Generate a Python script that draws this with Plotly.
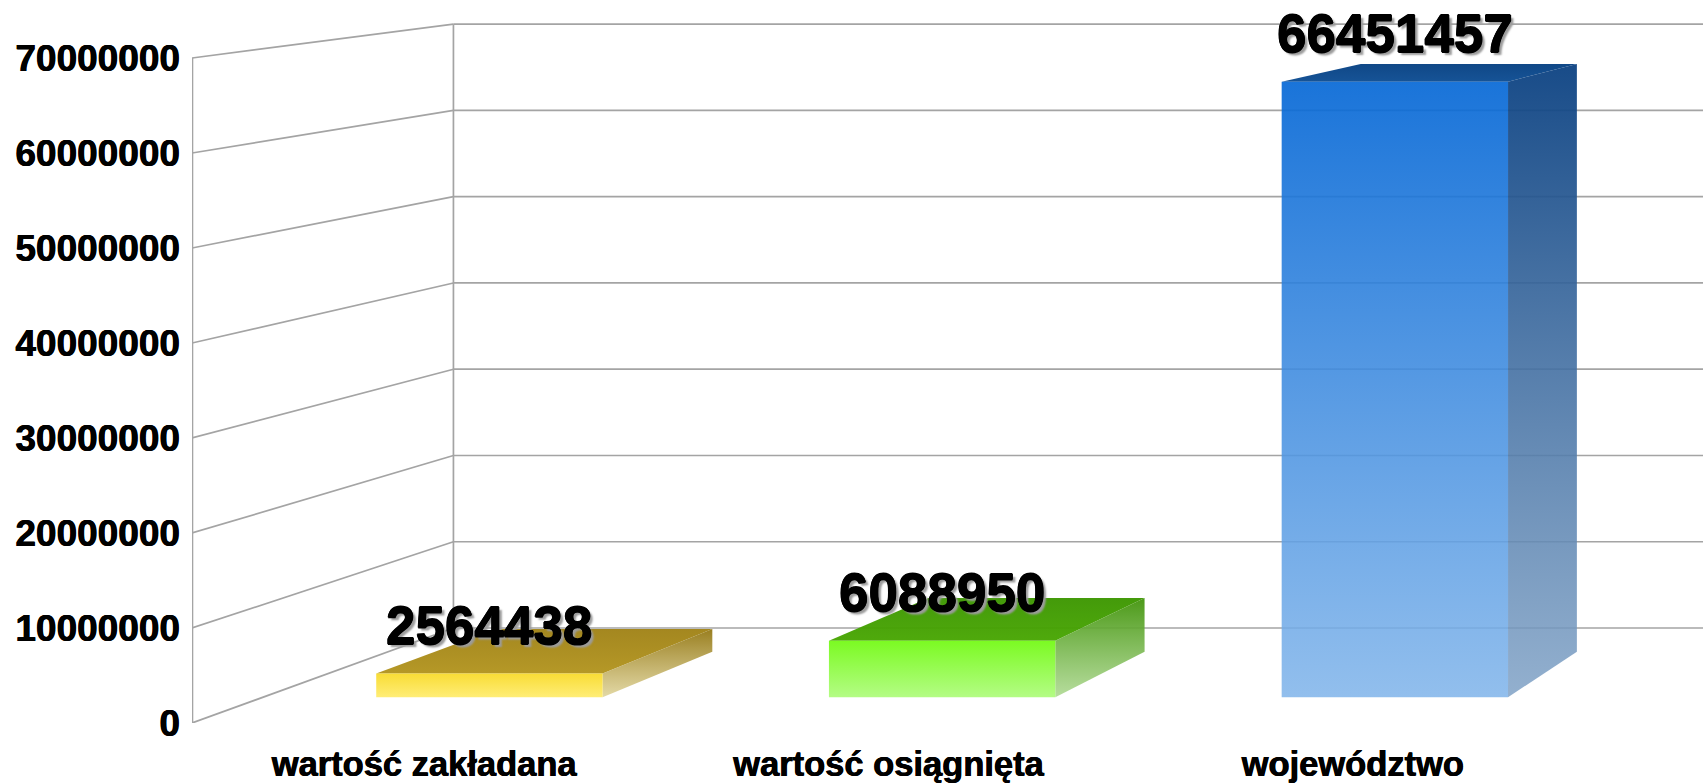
import plotly.graph_objects as go

# ---------------- data ----------------
categories = ["wartość zakładana", "wartość osiągnięta", "województwo"]
values = [2564438, 6088950, 66451457]
tick_values = [0, 10000000, 20000000, 30000000, 40000000, 50000000, 60000000, 70000000]
tick_labels = [str(v) for v in tick_values]

# ---------------- pseudo-3D style constants ----------------
VPX, VPY = 5.62, 108.7e6      # vanishing point (in data units)
S_WALL = 0.092                # depth of back wall
S_FRONT = 0.025               # depth of bar front faces
S_BACK = 0.069                # depth of bar back faces
BAR_W = 0.5
X_MIN, X_FRONT_MAX = -0.5, 2.5
Y_MIN, Y_MAX = 0, 70000000

# figure geometry (pixels)
W, H = 1703, 784
L, B = 192, 61
PX_X = 464.33                      # pixels per category unit
PX_Y = 665.0 / (Y_MAX - Y_MIN)     # pixels per value unit
X_RANGE = [X_MIN, X_MIN + (W - L) / PX_X]
Y_RANGE = [Y_MIN, Y_MIN + (H - B) / PX_Y]

GRID = "#a4a4a4"
FONT = "Liberation Sans"

bar_styles = [
    dict(front=["rgba(255,236,110,0.94)", "rgba(248,218,40,0.94)"],
         top=["rgba(178,148,30,0.96)", "rgba(160,130,22,0.96)"],
         right=["rgba(222,210,150,0.85)", "rgba(148,120,20,0.95)"]),
    dict(front=["rgba(175,252,125,0.94)", "rgba(115,250,20,0.94)"],
         top=["rgba(72,166,2,0.96)", "rgba(60,150,0,0.96)"],
         right=["rgba(170,215,140,0.85)", "rgba(66,148,12,0.95)"]),
    dict(front=["rgba(128,180,234,0.86)", "rgba(6,104,214,0.92)"],
         top=["rgba(12,76,146,0.96)", "rgba(6,64,130,0.96)"],
         right=["rgba(128,162,198,0.85)", "rgba(12,66,130,0.95)"]),
]


def proj(x, y, s):
    return x + s * (VPX - x), y + s * (VPY - y)


fig = go.Figure()

# ---------------- walls / gridlines ----------------
wx, wy = [], []
for v in tick_values:
    bx, by = proj(X_MIN, v, S_WALL)
    rx, ry = proj(X_FRONT_MAX, v, S_WALL)
    wx += [X_MIN, bx, None]          # left wall diagonal
    wy += [v, by, None]
    wx += [bx, rx, None]             # back wall horizontal
    wy += [by, ry, None]
b0 = proj(X_MIN, Y_MIN, S_WALL)
b1 = proj(X_MIN, Y_MAX, S_WALL)
wx += [b0[0], b1[0], None]           # back-left vertical edge
wy += [b0[1], b1[1], None]
fig.add_trace(go.Scatter(x=wx, y=wy, mode="lines",
                         line=dict(color=GRID, width=1.7),
                         hoverinfo="skip", showlegend=False))
# front-left vertical edge (sits on the plot border, so drawn a bit wider)
fig.add_trace(go.Scatter(x=[X_MIN, X_MIN], y=[Y_MIN, Y_MAX], mode="lines",
                         line=dict(color=GRID, width=2.6),
                         hoverinfo="skip", showlegend=False))


def face(pts, colors):
    xs = [p[0] for p in pts] + [pts[0][0]]
    ys = [p[1] for p in pts] + [pts[0][1]]
    fig.add_trace(go.Scatter(
        x=xs, y=ys, mode="lines", fill="toself",
        line=dict(width=0, color="rgba(0,0,0,0)"),
        fillgradient=dict(type="vertical",
                          colorscale=[[0, colors[0]], [1, colors[1]]]),
        hoverinfo="skip", showlegend=False))


LABEL_SHADOW = ("0.6px 0 0 #000, -0.6px 0 0 #000, 0 0.6px 0 #000, 0 -0.6px 0 #000, "
                "3px 3px 2px #9c9c9c")
AXIS_SHADOW = "0.4px 0 0 #000, -0.4px 0 0 #000"

# ---------------- bars ----------------
for i, (cat, v) in enumerate(zip(categories, values)):
    st = bar_styles[i]
    xl, xr = i - BAR_W / 2, i + BAR_W / 2
    flb = proj(xl, 0, S_FRONT)
    frb = proj(xr, 0, S_FRONT)
    frt = proj(xr, v, S_FRONT)
    flt = proj(xl, v, S_FRONT)
    brb = proj(xr, 0, S_BACK)
    brt = proj(xr, v, S_BACK)
    blt = proj(xl, v, S_BACK)
    face([flt, frt, brt, blt], st["top"])
    face([frb, brb, brt, frt], st["right"])
    face([flb, frb, frt, flt], st["front"])
    ax, ay = proj(i, v, S_FRONT)
    fig.add_annotation(x=ax, y=ay, text=str(v), showarrow=False,
                       xanchor="center", yanchor="middle", yshift=48,
                       font=dict(family=FONT, size=53, color="black",
                                 weight="bold", shadow=LABEL_SHADOW))

fig.update_layout(
    width=W, height=H,
    margin=dict(l=L, r=0, t=0, b=B, autoexpand=False),
    paper_bgcolor="white", plot_bgcolor="white",
    showlegend=False,
    xaxis=dict(range=X_RANGE, tickvals=list(range(len(categories))),
               ticktext=categories, showgrid=False, zeroline=False,
               showline=False, ticks="", automargin=False,
               ticklabelstandoff=17, fixedrange=True,
               tickfont=dict(family=FONT, size=34.5, color="black",
                             weight="bold", shadow=AXIS_SHADOW)),
    yaxis=dict(range=Y_RANGE, tickvals=tick_values, ticktext=tick_labels,
               showgrid=False, zeroline=False, showline=False,
               ticks="", automargin=False,
               ticklabelstandoff=11, fixedrange=True,
               tickfont=dict(family=FONT, size=37, color="black",
                             weight="bold", shadow=AXIS_SHADOW)),
)

fig.write_html("out.html", config={"displayModeBar": False},
               post_script="document.body.style.margin='0px';")
